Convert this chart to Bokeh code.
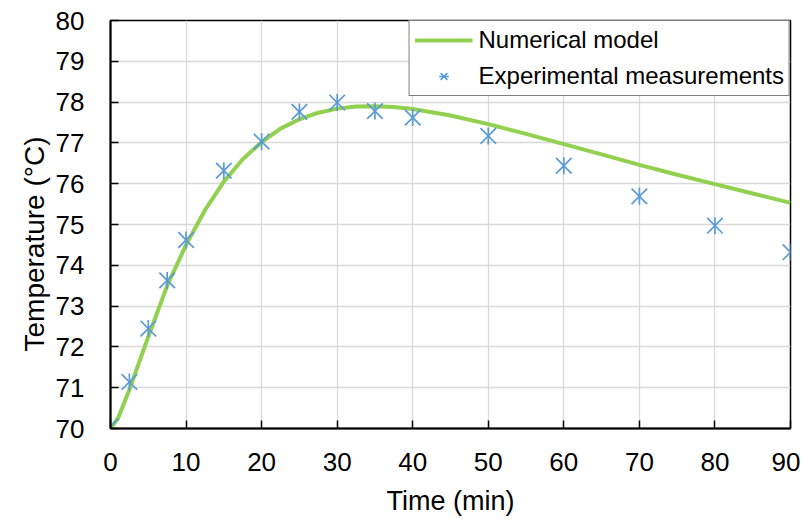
import math
from bokeh.plotting import figure
from bokeh.models import FixedTicker, Range1d, Legend, LegendItem, Title
from bokeh.embed import file_html
from bokeh.resources import INLINE

# Numerical model
model_time = [0, 1, 2.5, 5, 7.5, 10, 12.5, 15, 17.5, 20, 22.5, 25, 27.5, 30, 32.5, 35,
              37.5, 40, 45, 50, 55, 60, 65, 70, 75, 80, 85, 90]
model_temp = [70.0, 70.25, 70.95, 72.25, 73.5, 74.5, 75.35, 76.05, 76.6, 77.02, 77.35,
              77.58, 77.74, 77.84, 77.89, 77.9, 77.88, 77.83, 77.67, 77.46, 77.22, 76.97,
              76.72, 76.46, 76.22, 75.99, 75.76, 75.53]

# Experimental measurements
exp_time = [0, 2.5, 5, 7.5, 10, 15, 20, 25, 30, 35, 40, 50, 60, 70, 80, 90]
exp_temp = [70.05, 71.14, 72.45, 73.63, 74.62, 76.32, 77.03, 77.76, 77.99, 77.78,
            77.62, 77.17, 76.44, 75.69, 74.97, 74.32]

x_ticks = [0, 10, 20, 30, 40, 50, 60, 70, 80, 90]
y_ticks = [70, 71, 72, 73, 74, 75, 76, 77, 78, 79, 80]

FONT = "Liberation Sans"
BLUE = "#5B9BD5"
GREEN = "#92D050"

p = figure(width=800, height=518, output_backend="svg", toolbar_location=None,
           x_range=Range1d(0, 90), y_range=Range1d(70, 80),
           min_border_left=110, min_border_right=10, min_border_top=20,
           min_border_bottom=89)
p.background_fill_color = "white"
p.border_fill_color = "white"
p.outline_line_color = "black"
p.outline_line_width = 1.5

for ax in (p.xaxis[0], p.yaxis[0]):
    ax.axis_line_color = "black"
    ax.axis_line_width = 2
    ax.major_tick_line_color = "black"
    ax.major_tick_line_width = 1.5
    ax.major_tick_in = 8
    ax.major_tick_out = 0
    ax.minor_tick_line_color = None
    ax.major_label_text_font = FONT
    ax.major_label_text_font_size = "26px"
    ax.major_label_text_color = "black"
    ax.axis_label_text_font = FONT
    ax.axis_label_text_font_size = "27px"
    ax.axis_label_text_font_style = "normal"
    ax.axis_label_text_color = "black"

p.xaxis.ticker = FixedTicker(ticks=x_ticks)
p.yaxis.ticker = FixedTicker(ticks=y_ticks)
p.xaxis.axis_label = "Time (min)"
p.xaxis.major_label_standoff = 24
p.xaxis.axis_label_standoff = 12
p.yaxis.major_label_standoff = 26

ytitle = Title(text="Temperature (°C)", align="left", offset=77,
               vertical_align="middle", standoff=4,
               text_font=FONT, text_font_size="28px", text_font_style="normal",
               text_color="black")
p.add_layout(ytitle, "left")

p.xgrid.ticker = FixedTicker(ticks=x_ticks)
p.ygrid.ticker = FixedTicker(ticks=y_ticks)
p.grid.grid_line_color = "#D9D9D9"
p.grid.grid_line_width = 1.3

r_line = p.line(model_time, model_temp, line_color=GREEN, line_width=4)
r_x = p.scatter(exp_time, exp_temp, marker="x", size=22,
                line_color=BLUE, line_width=1.7)
r_v = p.scatter(exp_time, exp_temp, marker="dash", size=17, angle=math.pi / 2,
                line_color=BLUE, line_width=1.7)

legend = Legend(items=[LegendItem(label="Numerical model", renderers=[r_line]),
                       LegendItem(label="Experimental measurements", renderers=[r_x, r_v])],
                location="top_right")
legend.margin = 0
legend.padding = 5
legend.spacing = 8
legend.glyph_width = 58
legend.glyph_height = 24
legend.label_height = 24
legend.label_standoff = 6
legend.label_text_font = FONT
legend.label_text_font_size = "24px"
legend.label_text_color = "black"
legend.border_line_color = "black"
legend.border_line_width = 1.5
legend.background_fill_alpha = 1
p.add_layout(legend)

open("out.html", "w").write(file_html(p, INLINE))
